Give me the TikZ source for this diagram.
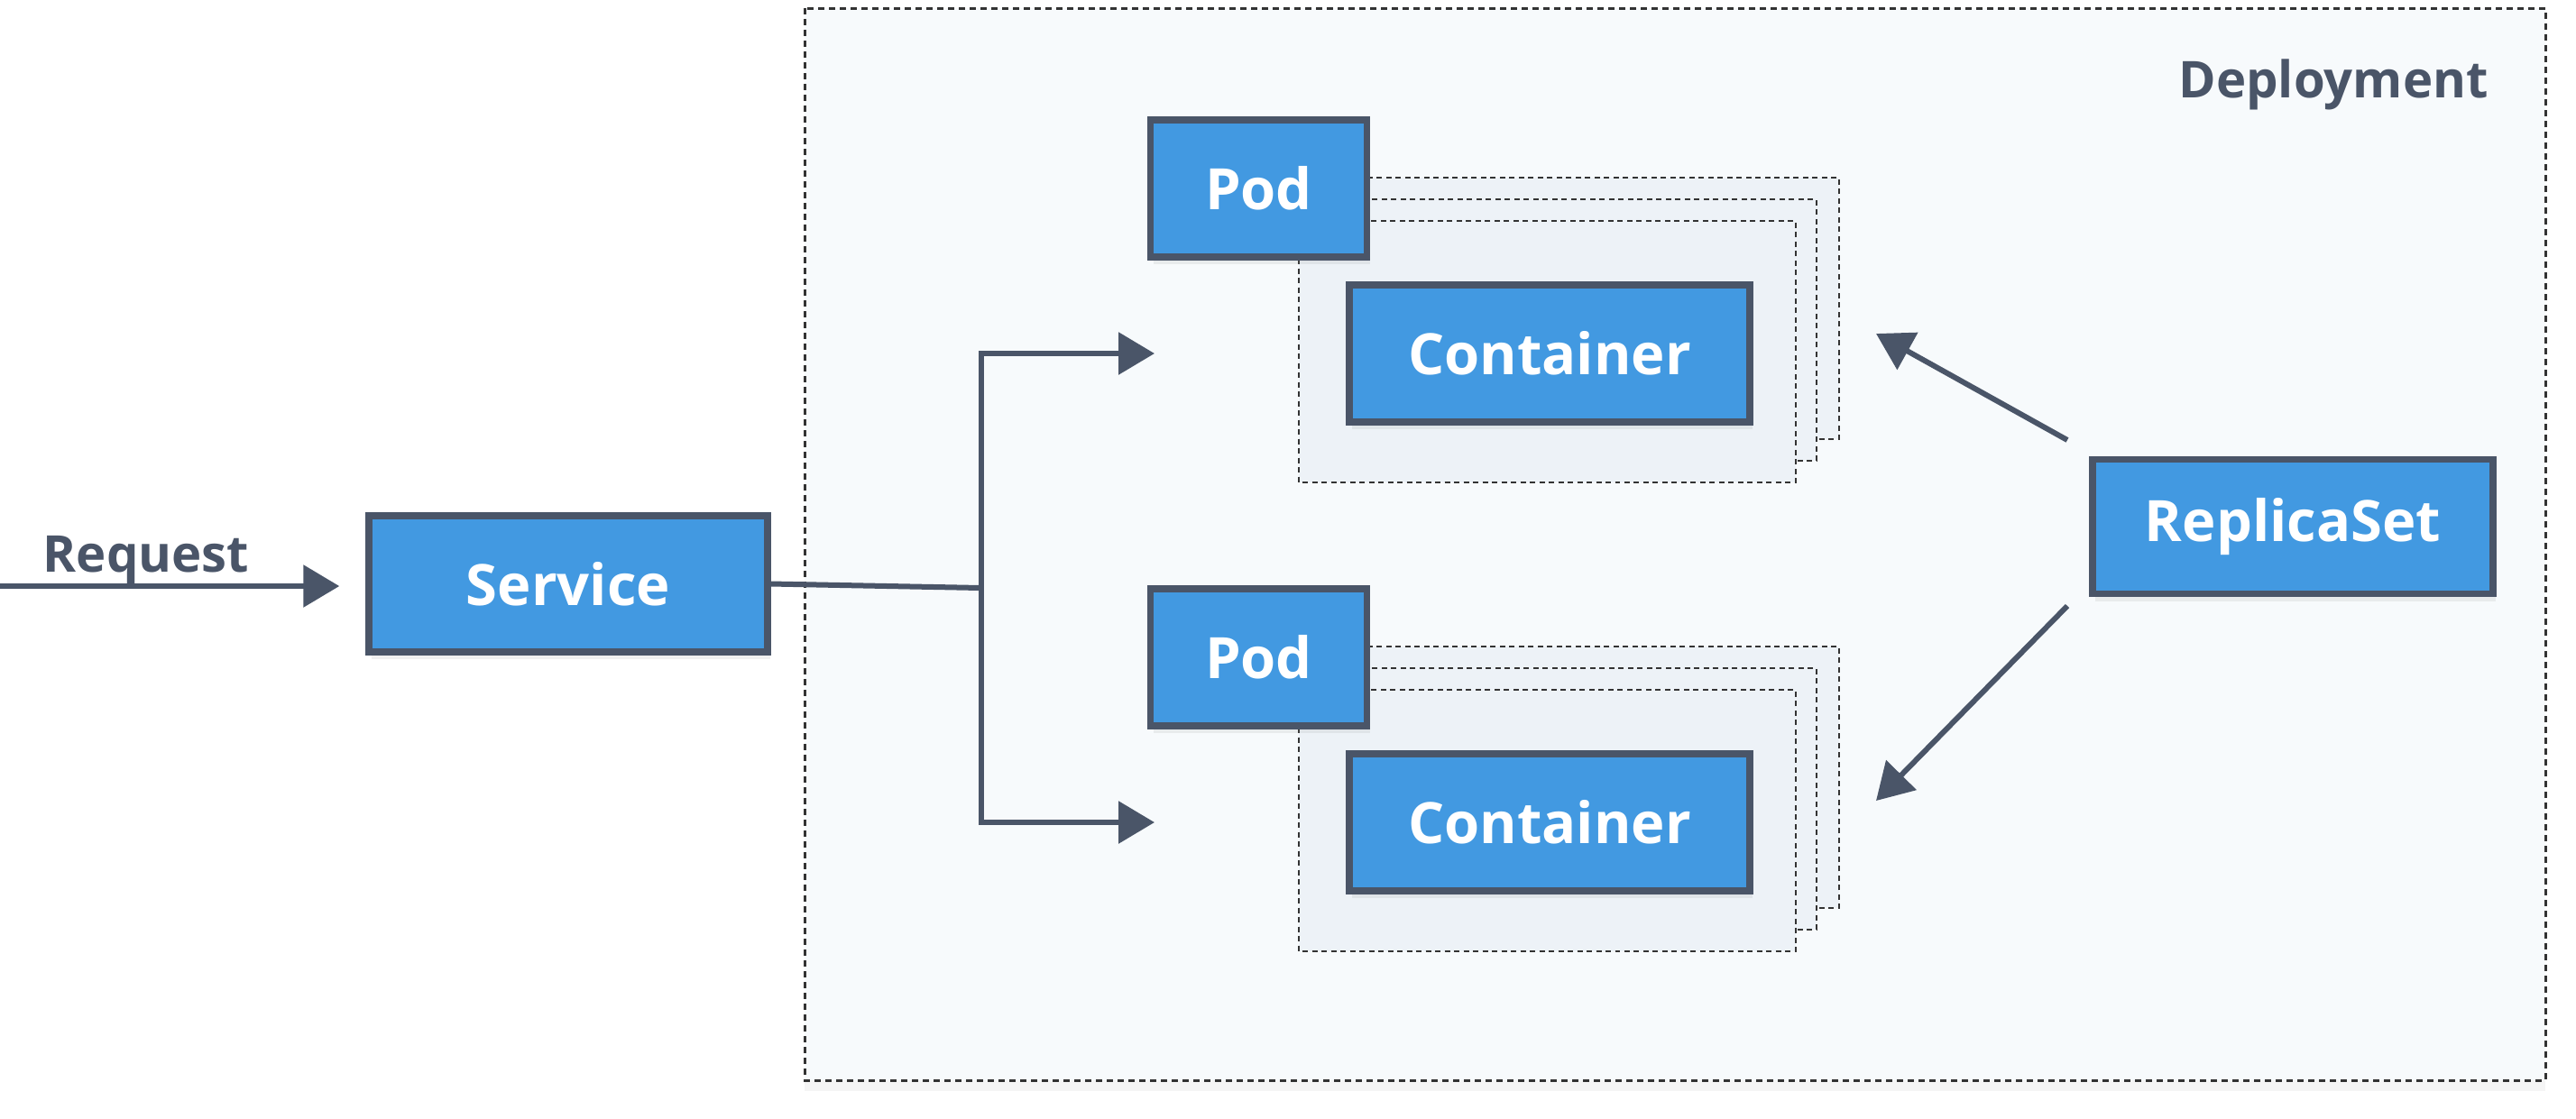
\documentclass[tikz,border=0pt]{standalone}
\usepackage{fontspec}
\setmainfont{Open Sans}
\usetikzlibrary{arrows.meta,shadows}
\definecolor{kblue}{HTML}{4299E1}
\definecolor{kdark}{HTML}{4A5568}
\definecolor{kbg}{HTML}{F7FAFC}
\definecolor{kstack}{HTML}{EDF2F7}
\definecolor{kdash}{HTML}{333333}
\tikzset{
  box/.style={draw=kdark, line width=0.075cm, fill=kblue, text=white, inner sep=0pt,
    font=\fontsize{18}{18}\selectfont\bfseries, minimum height=1.52cm,
    drop shadow={opacity=0.12, shadow xshift=0.03cm, shadow yshift=-0.08cm}},
  stack/.style={draw=kdash, fill=kstack, line width=0.015cm, dash pattern=on 0.06cm off 0.045cm},
  flow/.style={draw=kdark, line width=0.06cm, -{Triangle[length=0.4cm,width=0.46cm]}},
  lbl/.style={text=kdark, font=\fontsize{16}{16}\selectfont\bfseries}
}
\begin{document}
\begin{tikzpicture}
\useasboundingbox (0,0) rectangle (28.56,-12.40);

\draw [kdash, fill=kbg, line width=0.03cm, dash pattern=on 0.07cm off 0.05cm,
  drop shadow={opacity=0.08, shadow xshift=0cm, shadow yshift=-0.12cm}] (8.92,-0.09) rectangle (28.22,-11.98);
\node [lbl, anchor=east] (deploy) at (27.71,-0.94) {Deployment};

\draw [stack] (14.88,-1.97) rectangle (20.39,-4.87);
\draw [stack] (14.64,-2.21) rectangle (20.14,-5.11);
\draw [stack] (14.40,-2.45) rectangle (19.91,-5.35);
\draw [stack] (14.88,-7.17) rectangle (20.39,-10.07);
\draw [stack] (14.64,-7.41) rectangle (20.14,-10.31);
\draw [stack] (14.40,-7.65) rectangle (19.91,-10.55);

\node [box, minimum width=2.40cm] (pod1) at (13.955,-2.09) {Pod};
\node [box, minimum width=4.44cm] (cont1) at (17.18,-3.92) {Container};
\node [box, minimum width=2.40cm] (pod2) at (13.955,-7.29) {Pod};
\node [box, minimum width=4.44cm] (cont2) at (17.18,-9.12) {Container};
\node [box, minimum width=4.42cm, minimum height=1.51cm] (service) at (6.30,-6.475) {Service};
\node [box, minimum width=4.44cm, minimum height=1.49cm] (replica) at (25.42,-5.84) {ReplicaSet};

\node [lbl] (reqlbl) at (1.62,-6.21) {Request};

\coordinate (req) at (0,-6.50);
\coordinate (split) at (10.88,-6.52);
\coordinate (pod1in) at (12.80,-3.92);
\coordinate (pod2in) at (12.80,-9.12);
\coordinate (rstop) at (22.92,-4.88);
\coordinate (rsbot) at (22.92,-6.72);
\coordinate (up) at (20.80,-3.70);
\coordinate (down) at (20.80,-8.88);

\draw [flow, shorten >=0.29cm] (req) -- (service.west |- req);
\draw [draw=kdark, line width=0.06cm] (service.east) -- (split);
\draw [flow] (split) |- (pod1in);
\draw [flow] (split) |- (pod2in);
\draw [flow] (rstop) -- (up);
\draw [flow] (rsbot) -- (down);
\end{tikzpicture}
\end{document}
